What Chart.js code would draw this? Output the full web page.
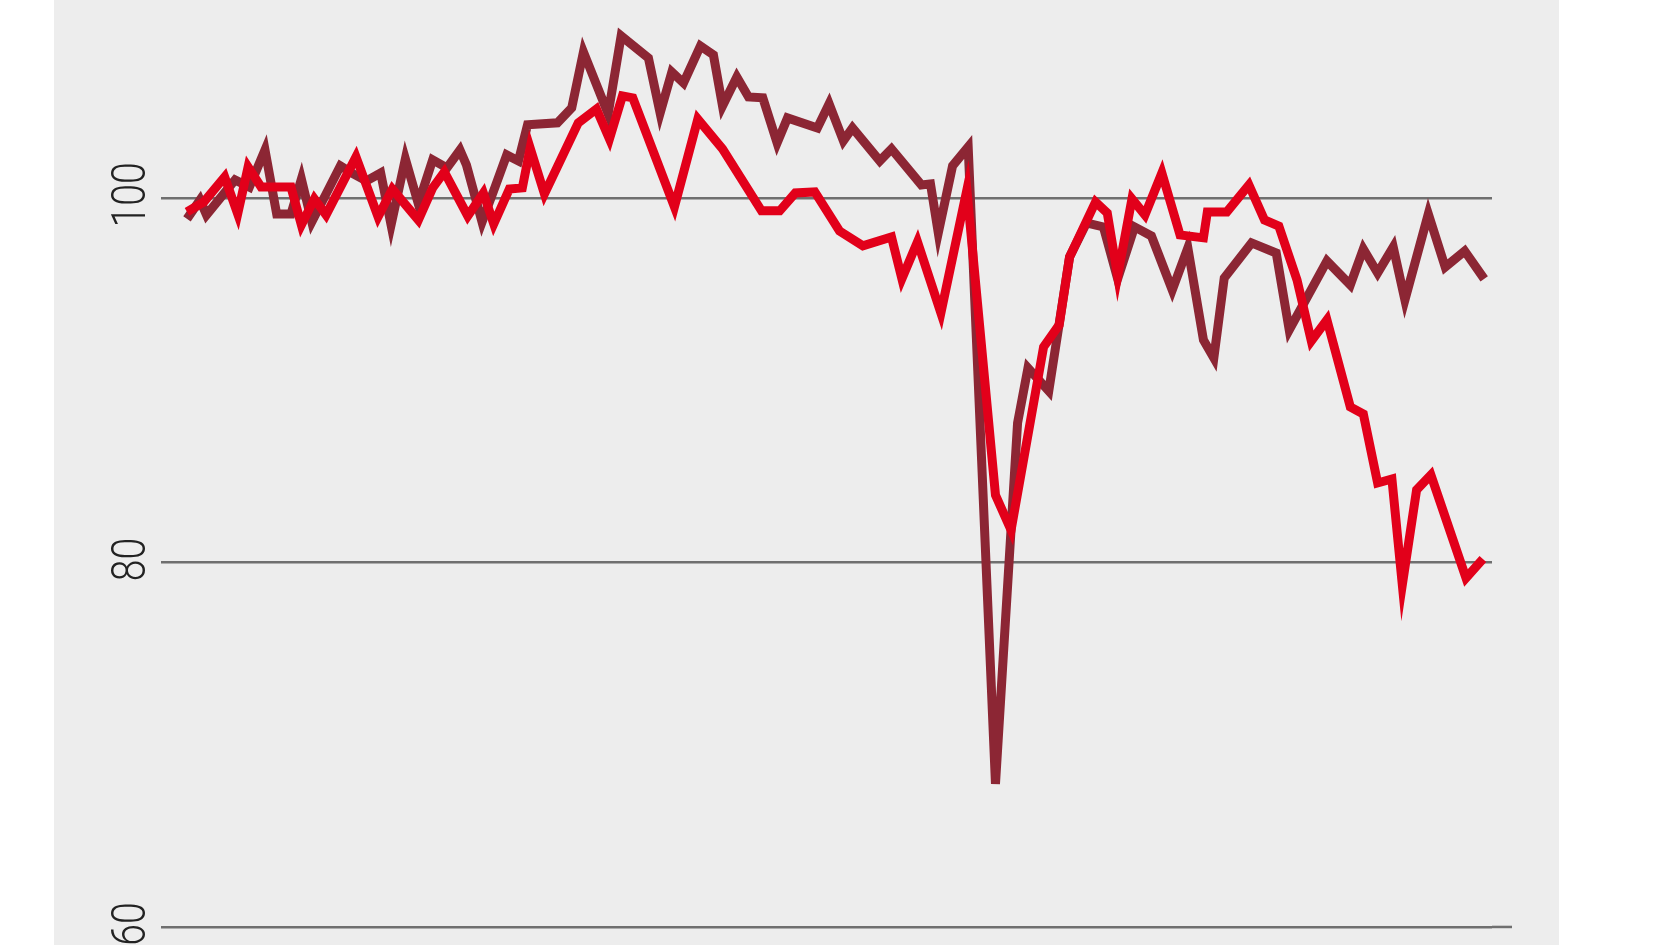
<!DOCTYPE html>
<html>
<head>
<meta charset="utf-8">
<script src="https://cdn.jsdelivr.net/npm/chart.js@4.4.0/dist/chart.umd.min.js"></script>
<style>
  html, body { margin: 0; padding: 0; background: #fff; overflow: hidden; }
  #wrap { position: relative; width: 1680px; height: 945px; }
  #panel { position: absolute; left: 54px; top: 0; width: 1505px; height: 945px; background: #ededed; }
  #box { position: absolute; left: 0; top: 0; width: 1680px; height: 945px; }
</style>
</head>
<body>
<div id="wrap">
  <div id="panel"></div>
  <div id="box"><canvas id="chart"></canvas></div>
</div>
<script>
// dark red series (period, index value)
const periodsDark = [0, 1.0, 1.5, 3.7, 4.8, 6.0, 6.9, 8.0, 8.8, 9.6,
  11.8, 12.8, 13.8, 14.9, 15.7, 16.8, 17.8, 18.9, 20.0, 21.0,
  21.5, 22.7, 23.7, 24.6, 25.5, 26.2, 28.5, 29.6, 30.5, 32.4,
  33.4, 35.5, 36.4, 37.3, 38.2, 39.5, 40.5, 41.2, 42.3, 43.2,
  44.3, 45.4, 46.2, 48.5, 49.4, 50.5, 51.2, 53.3, 54.2, 56.5,
  57.2, 57.8, 58.9, 60.1, 62.2, 63.9, 64.7, 66.3, 67.9, 69.2,
  70.5, 71.6, 72.9, 74.2, 75.8, 77.0, 78.2, 79.0, 79.8, 81.9,
  83.8, 84.8, 87.7, 89.5, 90.5, 91.6, 92.8, 93.7, 95.5, 96.8,
  98.3, 99.8];
const valuesDark = [98.85, 99.89, 99.07, 100.99, 100.60, 102.63, 99.12, 99.12, 101.04, 98.68,
  101.76, 101.32, 100.93, 101.37, 98.52, 102.14, 99.67, 102.09, 101.65, 102.63,
  101.81, 98.68, 100.60, 102.36, 102.03, 104.01, 104.12, 104.94, 108.01, 104.61,
  108.89, 107.68, 104.66, 106.91, 106.31, 108.34, 107.85, 105.05, 106.64, 105.54,
  105.49, 103.02, 104.39, 103.84, 105.16, 103.13, 103.84, 102.03, 102.69, 100.71,
  100.77, 98.08, 101.76, 102.80, 67.85, 87.65, 90.67, 89.41, 96.76, 98.63,
  98.41, 95.56, 98.41, 97.91, 94.95, 97.26, 92.21, 91.22, 95.61, 97.53,
  96.98, 92.76, 96.54, 95.23, 97.20, 95.88, 97.31, 94.40, 99.12, 96.21,
  97.09, 95.56];

// bright red series (period, index value)
const periodsRed = [0, 1.3, 2.9, 3.9, 4.7, 5.7, 8.0, 8.8, 9.8, 10.7,
  13.0, 14.7, 15.8, 17.8, 18.9, 19.8, 21.6, 22.8, 23.6, 24.8,
  25.8, 26.4, 27.5, 30.1, 31.5, 32.5, 33.5, 34.3, 37.5, 39.3,
  41.2, 44.2, 45.6, 46.8, 48.3, 50.2, 52.0, 54.2, 55.0, 56.2,
  58.0, 60.0, 62.2, 63.4, 65.9, 67.1, 67.9, 69.9, 70.8, 71.6,
  72.7, 73.7, 75.0, 76.4, 78.2, 78.5, 80.0, 81.7, 82.9, 84.0,
  85.4, 86.5, 87.7, 89.5, 90.5, 91.6, 92.7, 93.5, 94.6, 95.7,
  98.4, 99.7];
const valuesRed = [99.23, 99.78, 101.15, 99.12, 101.70, 100.60, 100.60, 98.52, 99.95, 99.07,
  102.25, 98.96, 100.49, 98.79, 100.55, 101.43, 99.01, 100.27, 98.57, 100.49,
  100.55, 102.74, 100.22, 104.12, 104.88, 103.24, 105.60, 105.49, 99.51, 104.33,
  102.69, 99.29, 99.29, 100.27, 100.33, 98.19, 97.37, 97.86, 95.56, 97.59,
  93.69, 100.44, 83.70, 81.78, 91.82, 93.03, 96.76, 99.78, 99.18, 95.72,
  99.95, 99.07, 101.37, 97.97, 97.81, 99.23, 99.23, 100.71, 98.79, 98.46,
  95.50, 92.15, 93.31, 88.53, 88.15, 84.36, 84.58, 78.77, 83.98, 84.80,
  79.15, 80.19];

const yTicks = [60, 80, 100];

const toPoints = (xs, ys) => xs.map((x, i) => ({ x: x, y: ys[i] }));

// rotated tick labels + the longer base line
const tickLabels = {
  id: 'tickLabels',
  afterDraw(chart) {
    const ctx = chart.ctx;
    const y = chart.scales.y;
    ctx.save();
    const y60 = y.getPixelForValue(60);
    ctx.strokeStyle = '#6f6f6f';
    ctx.lineWidth = 2.5;
    ctx.beginPath();
    ctx.moveTo(chart.chartArea.right, y60);
    ctx.lineTo(1512, y60);
    ctx.stroke();

    ctx.font = '300 49px Roboto, "Liberation Sans", sans-serif';
    ctx.fillStyle = '#222';
    ctx.textAlign = 'center';
    ctx.textBaseline = 'alphabetic';
    yTicks.forEach(v => {
      const py = y.getPixelForValue(v);
      ctx.save();
      ctx.translate(128, py - 3);
      ctx.rotate(-Math.PI / 2);
      ctx.scale(0.8, 1);
      ctx.fillText(String(v), 0, 17);
      ctx.restore();
    });
    ctx.restore();
  }
};

new Chart(document.getElementById('chart'), {
  type: 'line',
  data: {
    datasets: [
      {
        label: 'Rot',
        data: toPoints(periodsRed, valuesRed),
        borderColor: '#e2001a',
        borderWidth: 9,
        pointRadius: 0,
        tension: 0,
        order: 1
      },
      {
        label: 'Dunkelrot',
        data: toPoints(periodsDark, valuesDark),
        borderColor: '#8c2634',
        borderWidth: 9,
        pointRadius: 0,
        tension: 0,
        order: 2
      }
    ]
  },
  options: {
    responsive: true,
    maintainAspectRatio: false,
    animation: false,
    layout: { padding: { left: 0, right: 188, top: 0, bottom: 0 } },
    plugins: { legend: { display: false }, tooltip: { enabled: false } },
    scales: {
      x: { type: 'linear', min: -2.0, max: 100.4, display: false },
      y: {
        min: 59.01,
        max: 110.86,
        afterBuildTicks: s => { s.ticks = yTicks.map(v => ({ value: v })); },
        afterFit: s => { s.width = 161; },
        ticks: { display: false },
        border: { display: false },
        grid: { color: '#6f6f6f', lineWidth: 2.5, drawTicks: false }
      }
    }
  },
  plugins: [tickLabels]
});
</script>
</body>
</html>
